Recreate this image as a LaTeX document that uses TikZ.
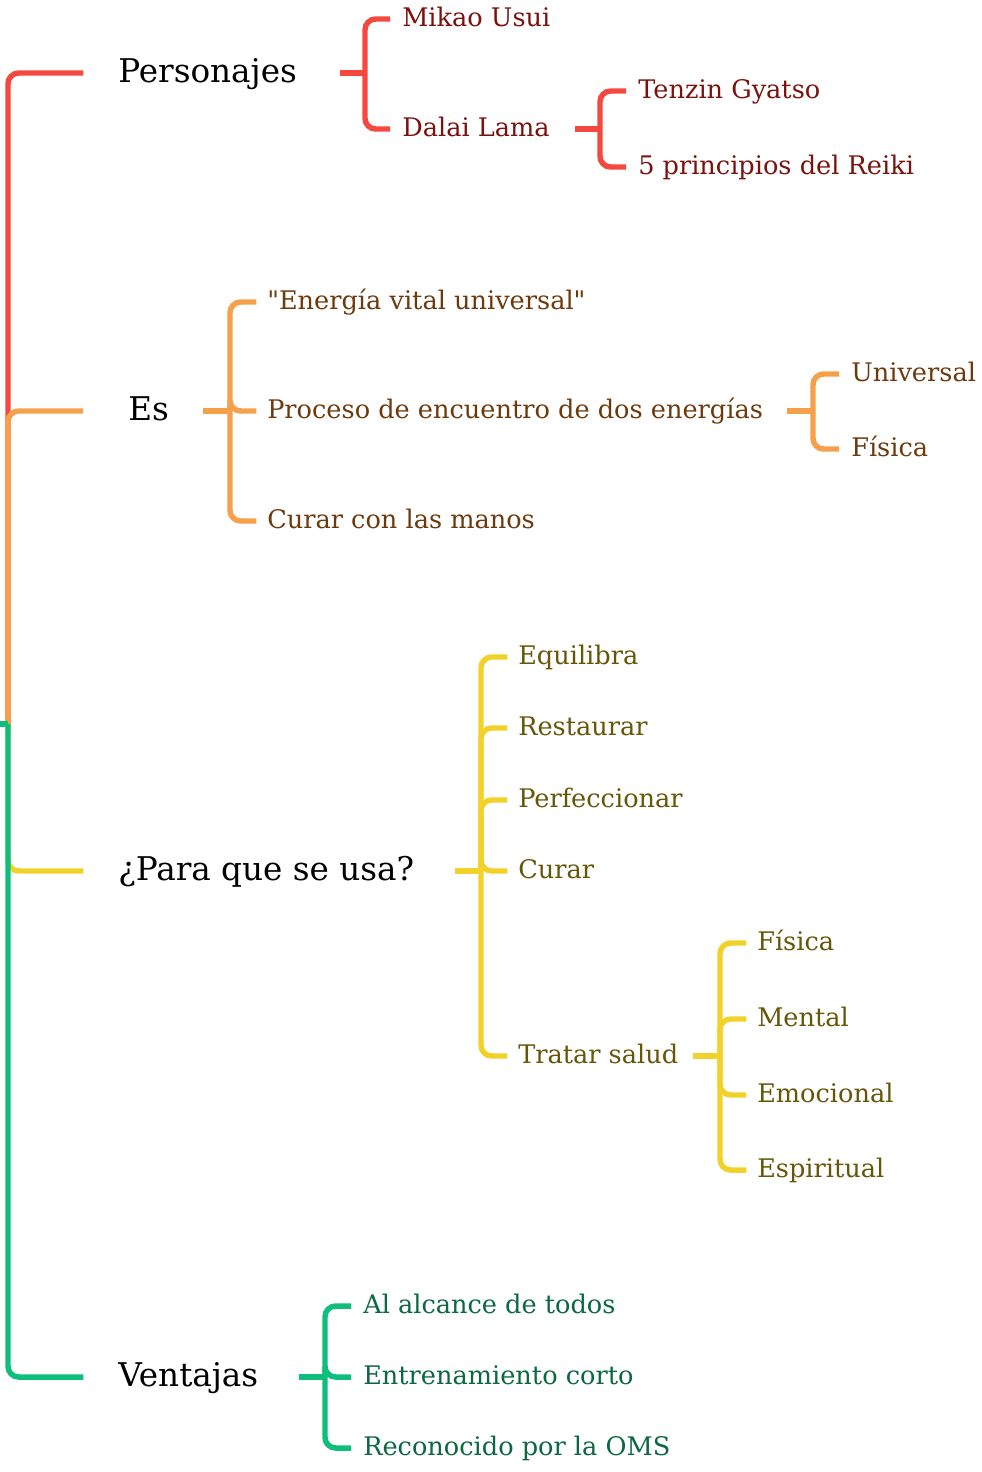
\documentclass[tikz,border=0pt]{standalone}
\usepackage{fontspec}
\setmainfont{DejaVu Serif}

\definecolor{rojo}{RGB}{245,72,63}
\definecolor{naranja}{RGB}{247,160,75}
\definecolor{amarillo}{RGB}{242,210,42}
\definecolor{verde}{RGB}{16,190,124}
\definecolor{rojoosc}{RGB}{122,18,14}
\definecolor{marron}{RGB}{108,58,12}
\definecolor{oliva}{RGB}{102,86,8}
\definecolor{verdeosc}{RGB}{12,104,64}

\tikzset{
  rama/.style={line width=4.1pt, rounded corners=8pt},
  tema/.style={anchor=west, inner sep=0pt, text height=2.75ex, text depth=0pt,
    font=\fontsize{24.5}{29}\selectfont},
  hoja/.style={anchor=west, inner sep=0pt, text height=2.3ex, text depth=0pt,
    font=\fontsize{19.2}{23}\selectfont},
}

\begin{document}
\begin{tikzpicture}[x=0.75pt,y=-0.75pt]
    \useasboundingbox (0,0) rectangle (982,1472);

    % Temas principales
    \node[tema] (per) at (118,73) {Personajes};
    \node[tema] (es) at (128,411) {Es};
    \node[tema] (para) at (118,871) {¿Para que se usa?};
    \node[tema] (ven) at (118,1377) {Ventajas};

    % Tronco a la izquierda
    \coordinate (raiz) at (0,724);
    \coordinate (tronco) at (8,724);
    \draw[rama, rojo] (tronco) |- ([xshift=-26pt]per.west);
    \draw[rama, naranja] (tronco) |- ([xshift=-33.75pt]es.west);
    \draw[rama, amarillo] (tronco) |- ([xshift=-26pt]para.west);
    \draw[rama, verde] (tronco) |- ([xshift=-26pt]ven.west);
    \draw[line width=4.1pt, verde] (raiz) -- (tronco);

    % Personajes
    \node[hoja, rojoosc] (usui) at (402,19) {Mikao Usui};
    \node[hoja, rojoosc] (dalai) at (402,129) {Dalai Lama};
    \coordinate (jper) at (365,73);
    \draw[rama, rojo] (jper) -- ++(-25,0);
    \foreach \h in {usui,dalai}
      \draw[rama, rojo] (jper) |- ([xshift=-9pt]\h.west);

    \node[hoja, rojoosc] (tenzin) at (638,91) {Tenzin Gyatso};
    \node[hoja, rojoosc] (princ) at (638,167) {5 principios del Reiki};
    \coordinate (jdalai) at (600,129);
    \draw[rama, rojo] (jdalai) -- ++(-25,0);
    \foreach \h in {tenzin,princ}
      \draw[rama, rojo] (jdalai) |- ([xshift=-9pt]\h.west);

    % Es
    \node[hoja, marron] (vital) at (267,302) {\textquotedbl Energía vital universal\textquotedbl};
    \node[hoja, marron] (proc) at (267,411) {Proceso de encuentro de dos energías};
    \node[hoja, marron] (manos) at (267,521) {Curar con las manos};
    \coordinate (jes) at (230,411);
    \draw[rama, naranja] (jes) -- ++(-27,0);
    \foreach \h in {vital,proc,manos}
      \draw[rama, naranja] (jes) |- ([xshift=-8pt]\h.west);

    \node[hoja, marron] (univ) at (851,374) {Universal};
    \node[hoja, marron] (fis1) at (851,449) {Física};
    \coordinate (jproc) at (813,411);
    \draw[rama, naranja] (jproc) -- ++(-26,0);
    \foreach \h in {univ,fis1}
      \draw[rama, naranja] (jproc) |- ([xshift=-9pt]\h.west);

    % Para que se usa
    \node[hoja, oliva] (equi) at (518,657) {Equilibra};
    \node[hoja, oliva] (rest) at (518,728) {Restaurar};
    \node[hoja, oliva] (perf) at (518,800) {Perfeccionar};
    \node[hoja, oliva] (curar) at (518,871) {Curar};
    \node[hoja, oliva] (salud) at (518,1056) {Tratar salud};
    \coordinate (jpara) at (481,871);
    \draw[rama, amarillo] (jpara) -- ++(-26,0);
    \foreach \h in {equi,rest,perf,curar,salud}
      \draw[rama, amarillo] (jpara) |- ([xshift=-8pt]\h.west);

    \node[hoja, oliva] (fis2) at (757,943) {Física};
    \node[hoja, oliva] (ment) at (757,1019) {Mental};
    \node[hoja, oliva] (emoc) at (757,1095) {Emocional};
    \node[hoja, oliva] (espi) at (757,1170) {Espiritual};
    \coordinate (jsalud) at (720,1056);
    \draw[rama, amarillo] (jsalud) -- ++(-27,0);
    \foreach \h in {fis2,ment,emoc,espi}
      \draw[rama, amarillo] (jsalud) |- ([xshift=-8pt]\h.west);

    % Ventajas
    \node[hoja, verdeosc] (todos) at (363,1306) {Al alcance de todos};
    \node[hoja, verdeosc] (corto) at (363,1377) {Entrenamiento corto};
    \node[hoja, verdeosc] (oms) at (363,1448) {Reconocido por la OMS};
    \coordinate (jven) at (325,1377);
    \draw[rama, verde] (jven) -- ++(-26,0);
    \foreach \h in {todos,corto,oms}
      \draw[rama, verde] (jven) |- ([xshift=-9pt]\h.west);

\end{tikzpicture}
\end{document}
